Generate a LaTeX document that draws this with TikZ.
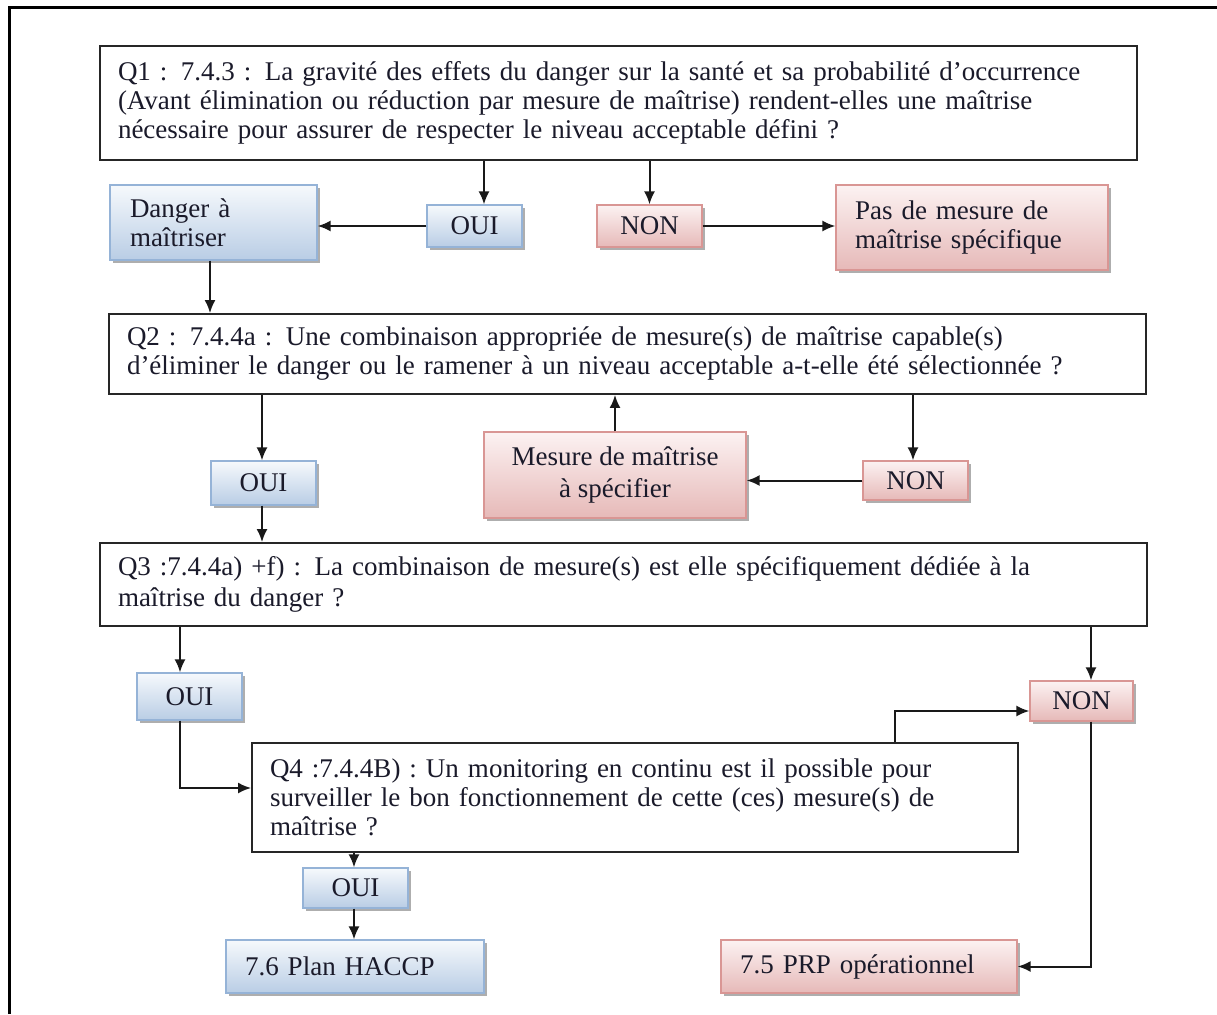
\documentclass[tikz,border=0pt]{standalone}
\usepackage{fontspec}
\setmainfont{Liberation Serif}
\usetikzlibrary{shadows,arrows.meta}
\definecolor{bluetop}{HTML}{F6F9FC}
\definecolor{bluebot}{HTML}{B9CDE5}
\definecolor{blueline}{HTML}{95B3D7}
\definecolor{redtop}{HTML}{FCF2F2}
\definecolor{redbot}{HTML}{E6B9B8}
\definecolor{redline}{HTML}{D99694}
\definecolor{txt}{HTML}{1A1A2A}
\begin{document}
\begin{tikzpicture}[x=1pt,y=-1pt,
  every node/.style={font=\fontsize{27}{29}\selectfont, text=txt},
  qbox/.style={draw=black!85, line width=1.8pt, fill=white, inner xsep=18pt, inner ysep=0pt, align=left},
  colbox/.style={line width=1.2pt, inner ysep=0pt,
    drop shadow={shadow xshift=3pt, shadow yshift=-3pt, fill=black!45, opacity=0.7}},
  bbox/.style={colbox, draw=blueline, top color=bluetop, bottom color=bluebot},
  rbox/.style={colbox, draw=redline, top color=redtop, bottom color=redbot},
  arr/.style={-{Latex[length=13pt,width=11pt]}, line width=2pt, draw=black!90}
]
\useasboundingbox (0,0) rectangle (1217,1014);
\draw[line width=3pt] (9,1014) -- (9,8) -- (1217,8);

% Q1
\node[qbox, minimum width=1037pt, minimum height=114pt, text width=1001pt] (q1) at (618.5,103)
 {Q1 : 7.4.3 : La gravité des effets du danger sur la santé et sa probabilité d’occurrence\\
  (Avant élimination ou réduction par mesure de maîtrise) rendent-elles une maîtrise\\
  nécessaire pour assurer de respecter le niveau acceptable défini ?};
\node[bbox, minimum width=207pt, minimum height=75pt, inner xsep=20pt, text width=167pt, align=left] (danger) at (213.5,222.5) {Danger à\\ maîtriser};
\node[bbox, minimum width=95pt, minimum height=42pt, inner xsep=0pt] (oui1) at (474.5,226) {OUI};
\node[rbox, minimum width=105pt, minimum height=42pt, inner xsep=0pt] (non1) at (649.5,226) {NON};
\node[rbox, minimum width=272pt, minimum height=85pt, inner xsep=19pt, text width=234pt, align=left] (pas) at (972,227.5) {Pas de mesure de\\ maîtrise spécifique};

% Q2
\node[qbox, minimum width=1037pt, minimum height=80pt, text width=1001pt] (q2) at (627.5,354)
 {Q2 : 7.4.4a : Une combinaison appropriée de mesure(s) de maîtrise capable(s)\\
  d’éliminer le danger ou le ramener à un niveau acceptable a-t-elle été sélectionnée ?};
\node[bbox, minimum width=105pt, minimum height=44pt, inner xsep=0pt] (oui2) at (263.5,483) {OUI};
\node[rbox, minimum width=262pt, minimum height=86pt, inner xsep=10pt, align=center, font=\fontsize{27}{32}\selectfont] (mesure) at (615,475) {Mesure de maîtrise\\ à spécifier};
\node[rbox, minimum width=105pt, minimum height=39pt, inner xsep=0pt] (non2) at (915.5,480.5) {NON};

% Q3
\node[qbox, minimum width=1047pt, minimum height=83pt, text width=1011pt, font=\fontsize{27}{31}\selectfont] (q3) at (623.5,584.5)
 {Q3 :7.4.4a) +f) : La combinaison de mesure(s) est elle spécifiquement dédiée à la\\
  maîtrise du danger ?};
\node[bbox, minimum width=105pt, minimum height=47pt, inner xsep=0pt] (oui3) at (189.5,696.5) {OUI};
\node[rbox, minimum width=103pt, minimum height=40pt, inner xsep=0pt] (non3) at (1081.5,701) {NON};

% Q4
\node[qbox, minimum width=766pt, minimum height=109pt, text width=730pt] (q4) at (635,797.5)
 {Q4 :7.4.4B) : Un monitoring en continu est il possible pour\\
  surveiller le bon fonctionnement de cette (ces) mesure(s) de\\
  maîtrise ?};
\node[bbox, minimum width=105pt, minimum height=40pt, inner xsep=0pt] (oui4) at (355.5,888) {OUI};
\node[bbox, minimum width=258pt, minimum height=53pt, inner xsep=19pt, text width=220pt, align=left] (haccp) at (355,966.5) {7.6 Plan HACCP};
\node[rbox, minimum width=296pt, minimum height=53pt, inner xsep=19pt, text width=258pt, align=left] (prp) at (869,966.5) {7.5 PRP opérationnel};

% connectors
\draw[arr] ([xshift=9.5pt]oui1.north |- q1.south) -- ([xshift=9.5pt]oui1.north);
\draw[arr] (non1.north |- q1.south) -- (non1.north);
\draw[arr] (oui1.west) -- (oui1.west -| danger.east);
\draw[arr] (non1.east) -- (non1.east -| pas.west);
\draw[arr] ([xshift=-3.5pt]danger.south) -- ([xshift=-3.5pt]danger.south |- q2.north);
\draw[arr] ([xshift=-1.5pt]oui2.north |- q2.south) -- ([xshift=-1.5pt]oui2.north);
\draw[arr] (mesure.north) -- (mesure.north |- q2.south);
\draw[arr] ([xshift=-2.5pt]non2.north |- q2.south) -- ([xshift=-2.5pt]non2.north);
\draw[arr] (non2.west) -- (non2.west -| mesure.east);
\draw[arr] ([xshift=-1.5pt]oui2.south) -- ([xshift=-1.5pt]oui2.south |- q3.north);
\draw[arr] ([xshift=-9.5pt]oui3.north |- q3.south) -- ([xshift=-9.5pt]oui3.north);
\draw[arr] ([xshift=9.5pt]non3.north |- q3.south) -- ([xshift=9.5pt]non3.north);
\draw[arr] ([xshift=-9.5pt]oui3.south) |- ([yshift=9.5pt]q4.west);
\draw[arr] ([xshift=260pt]q4.north) |- ([yshift=-10pt]non3.west);
\draw[arr] ([xshift=-1.5pt]oui4.north |- q4.south) -- ([xshift=-1.5pt]oui4.north);
\draw[arr] ([xshift=-1.5pt]oui4.south) -- ([xshift=-1.5pt]oui4.south |- haccp.north);
\draw[arr] ([xshift=9.5pt]non3.south) |- (prp.east);
\end{tikzpicture}
\end{document}
